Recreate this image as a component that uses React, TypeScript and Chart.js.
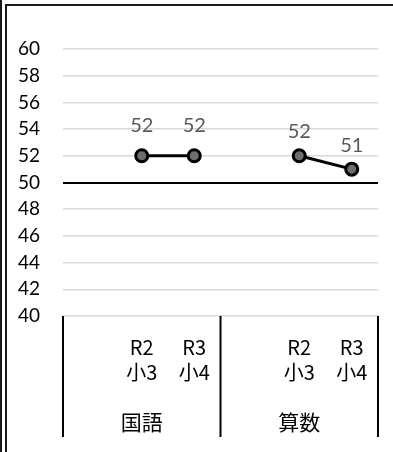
import React, { useEffect, useRef } from "react";
import { Chart, registerables } from "chart.js";

Chart.register(...registerables);

const yearLabels = ["", "R2", "R3", "", "R2", "R3"];
const gradeLabels = ["", "小3", "小4", "", "小3", "小4"];
const groupNames = ["国語", "算数"];
const groupSizes = [3, 3];
const kokugoValues = [null, 52, 52, null, null, null];
const sansuValues = [null, null, null, null, 52, 51];
const yMin = 40;
const yMax = 60;
const yStep = 2;
const baseline = 50;

const FONT = "Lato, 'Noto Sans CJK JP', sans-serif";
const JP_FONT = "'Noto Sans CJK JP', sans-serif";

const extrasPlugin = {
  id: "extras",
  afterDraw(chart: any) {
    const ctx = chart.ctx;
    const area = chart.chartArea;
    const n = yearLabels.length;
    const step = (area.right - area.left) / n;
    ctx.save();
    ctx.strokeStyle = "#000";
    ctx.lineWidth = 2;
    let idx = 0;
    const bounds = [0];
    groupSizes.forEach((s) => {
      idx += s;
      bounds.push(idx);
    });
    bounds.forEach((b) => {
      const x = area.left + b * step;
      ctx.beginPath();
      ctx.moveTo(x, area.bottom);
      ctx.lineTo(x, area.bottom + 121);
      ctx.stroke();
    });
    ctx.fillStyle = "#000";
    ctx.font = "21px " + JP_FONT;
    ctx.textAlign = "center";
    ctx.textBaseline = "middle";
    for (let g = 0; g < groupNames.length; g++) {
      const x = area.left + ((bounds[g] + bounds[g + 1]) / 2) * step;
      ctx.fillText(groupNames[g], x, area.bottom + 106);
    }
    ctx.fillStyle = "#595959";
    ctx.font = "20px " + FONT;
    const offsets = [30, 24];
    chart.data.datasets.forEach((ds: any, di: number) => {
      const meta = chart.getDatasetMeta(di);
      meta.data.forEach((pt: any, i: number) => {
        const v = ds.data[i];
        if (v === null || v === undefined) return;
        ctx.fillText(String(v), pt.x, pt.y - offsets[di]);
      });
    });
    ctx.restore();
  },
};

export default function App() {
  const ref = useRef<HTMLCanvasElement>(null);
  useEffect(() => {
    const canvas = ref.current!;
    const labels = yearLabels.map((y, i) => [y, gradeLabels[i]]);
    const dsStyle = {
      borderColor: "#000",
      borderWidth: 3,
      pointRadius: 6,
      pointBorderWidth: 3,
      pointBackgroundColor: "#6e6e6e",
      pointBorderColor: "#000",
      spanGaps: false,
      tension: 0,
    };
    const chart = new Chart(canvas, {
      type: "line",
      data: {
        labels,
        datasets: [
          { label: groupNames[0], data: kokugoValues, ...dsStyle },
          { label: groupNames[1], data: sansuValues, ...dsStyle },
        ],
      },
      options: {
        responsive: false,
        animation: false,
        layout: { padding: { top: 49, right: 15, left: 0, bottom: 0 } },
        plugins: { legend: { display: false }, tooltip: { enabled: false } },
        scales: {
          x: {
            offset: true,
            grid: { display: false, drawTicks: false, offset: true },
            border: { display: false },
            ticks: {
              autoSkip: false,
              maxRotation: 0,
              padding: 19,
              color: "#000",
              font: { family: JP_FONT, size: 20, lineHeight: 1.25 },
            },
            afterFit(scale: any) {
              scale.height = 136;
            },
          },
          y: {
            min: yMin,
            max: yMax,
            grid: {
              drawTicks: false,
              color: (c: any) => (c.tick && c.tick.value === baseline ? "#000" : "#d9d9d9"),
              lineWidth: (c: any) => (c.tick && c.tick.value === baseline ? 2 : 1.5),
            },
            border: { display: false },
            ticks: {
              stepSize: yStep,
              autoSkip: false,
              padding: 23,
              color: "#000",
              font: { family: FONT, size: 19 },
            },
            afterFit(scale: any) {
              scale.width = 63;
            },
          },
        },
      },
      plugins: [extrasPlugin],
    });
    return () => chart.destroy();
  }, []);

  return (
    <div style={{ position: "fixed", left: 0, top: 0, width: 393, height: 452, background: "#fff" }}>
      <div style={{ position: "absolute", left: 0, top: 0, width: 2, height: 452, background: "#1a1a1a" }} />
      <div style={{ position: "absolute", left: 5, top: 4, width: 2, height: 448, background: "#1a1a1a" }} />
      <div style={{ position: "absolute", left: 5, top: 4, width: 388, height: 2, background: "#1a1a1a" }} />
      <canvas ref={ref} width={393} height={452} style={{ position: "absolute", left: 0, top: 0, width: 393, height: 452 }} />
    </div>
  );
}
